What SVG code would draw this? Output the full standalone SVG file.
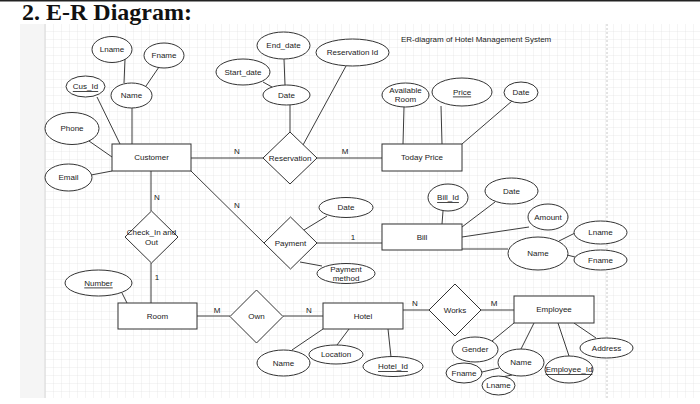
<svg xmlns="http://www.w3.org/2000/svg" width="700" height="404" viewBox="0 0 700 404">
<defs>
<pattern id="grid" width="8" height="8" patternUnits="userSpaceOnUse" x="45" y="23">
<path d="M8 0H0V8" fill="none" stroke="#e3e3e3" stroke-width="0.7"/>
</pattern>
</defs>
<style>
.e,.r,.d{fill:#fff;stroke:#333;stroke-width:1}
.t{font-family:"Liberation Sans",Arial,sans-serif;font-size:8px;fill:#1a1a1a;text-anchor:middle;dominant-baseline:central}
.u{text-decoration:underline}
#connectors line{stroke:#3c3c3c;stroke-width:1}
.lbl{font-family:"Liberation Sans",Arial,sans-serif;font-size:8px;fill:#1a1a1a;text-anchor:middle}
</style>
<rect x="0" y="0" width="700" height="404" fill="#fff"/>
<rect x="20" y="24" width="680" height="374" fill="#f5f5f5"/>
<rect x="45" y="24" width="655" height="374" fill="#fff"/>
<rect x="45" y="24" width="655" height="374" fill="url(#grid)"/>
<line x1="45" y1="24" x2="45" y2="398" stroke="#d8d8d8" stroke-width="1"/>
<line x1="607" y1="24" x2="607" y2="398" stroke="#c8c8c8" stroke-width="1" stroke-dasharray="2,2"/>
<rect x="0" y="0" width="700" height="1.5" fill="#222"/>
<text x="22" y="19.5" font-family="Liberation Serif,Times New Roman,serif" font-weight="bold" font-size="24" fill="#111">2. E-R Diagram:</text>
<text x="401" y="42" font-family="Liberation Sans,Arial,sans-serif" font-size="8" fill="#1a1a1a">ER-diagram of Hotel Management System</text>

<g id="connectors">
<line x1="125" y1="59" x2="124" y2="83"/>
<line x1="159" y1="67" x2="146" y2="86"/>
<line x1="97" y1="97" x2="120" y2="144"/>
<line x1="132" y1="108" x2="132" y2="144"/>
<line x1="89" y1="141" x2="112" y2="157"/>
<line x1="91" y1="175" x2="112" y2="171"/>
<line x1="191" y1="158" x2="263" y2="158"/>
<line x1="317" y1="158" x2="382" y2="158"/>
<line x1="290" y1="105" x2="290" y2="132"/>
<line x1="284" y1="59" x2="285" y2="85"/>
<line x1="263" y1="82" x2="272" y2="87"/>
<line x1="346" y1="66" x2="303" y2="145"/>
<line x1="404" y1="107" x2="403" y2="144"/>
<line x1="441" y1="106" x2="442" y2="144"/>
<line x1="512" y1="101" x2="462" y2="144"/>
<line x1="191" y1="171" x2="264" y2="243"/>
<line x1="327" y1="216" x2="304" y2="230"/>
<line x1="317" y1="243" x2="382" y2="243"/>
<line x1="443" y1="211" x2="442" y2="224"/>
<line x1="495" y1="202" x2="462" y2="227"/>
<line x1="529" y1="227" x2="462" y2="237"/>
<line x1="462" y1="249" x2="508" y2="249"/>
<line x1="559" y1="241" x2="575" y2="233"/>
<line x1="567" y1="255" x2="575" y2="257"/>
<line x1="300" y1="262" x2="322" y2="266"/>
<line x1="151" y1="171" x2="151" y2="211"/>
<line x1="151" y1="263" x2="151" y2="303"/>
<line x1="122" y1="293" x2="127" y2="303"/>
<line x1="197" y1="316" x2="230" y2="316"/>
<line x1="283" y1="316" x2="323" y2="316"/>
<line x1="292" y1="350" x2="323" y2="329"/>
<line x1="337" y1="345" x2="349" y2="329"/>
<line x1="391" y1="357" x2="388" y2="329"/>
<line x1="403" y1="310" x2="429" y2="310"/>
<line x1="481" y1="310" x2="514" y2="310"/>
<line x1="492" y1="341" x2="514" y2="323"/>
<line x1="521" y1="349" x2="534" y2="323"/>
<line x1="569" y1="356" x2="558" y2="323"/>
<line x1="596" y1="338" x2="574" y2="323"/>
<line x1="482" y1="372" x2="499" y2="368"/>
<line x1="502" y1="377" x2="512" y2="375"/>
<text class="lbl" x="237" y="154">N</text>
<text class="lbl" x="345" y="154">M</text>
<text class="lbl" x="237" y="208">N</text>
<text class="lbl" x="353" y="240">1</text>
<text class="lbl" x="157" y="200">N</text>
<text class="lbl" x="157" y="280">1</text>
<text class="lbl" x="217" y="313">M</text>
<text class="lbl" x="309" y="313">N</text>
<text class="lbl" x="415" y="306">N</text>
<text class="lbl" x="494" y="306">M</text>
</g>

<g id="customer"><rect class="r" x="112" y="144" width="79" height="27"/><text class="t" x="151.5" y="157.5">Customer</text></g>
<g id="cust-lname"><ellipse class="e" cx="112" cy="49.5" rx="20" ry="13"/><text class="t" x="112" y="49.5">Lname</text></g>
<g id="cust-fname"><ellipse class="e" cx="164" cy="55.5" rx="20" ry="12.5"/><text class="t" x="164" y="55.5">Fname</text></g>
<g id="cus-id"><ellipse class="e" cx="85.5" cy="86.5" rx="19.5" ry="10.5"/><text class="t u" x="85.5" y="86.5">Cus_Id</text></g>
<g id="cust-name"><ellipse class="e" cx="131.5" cy="95.5" rx="20.5" ry="12.5"/><text class="t" x="131.5" y="95.5">Name</text></g>
<g id="phone"><ellipse class="e" cx="72" cy="128.5" rx="27" ry="16"/><text class="t" x="72" y="128.5">Phone</text></g>
<g id="email"><ellipse class="e" cx="68.5" cy="177.5" rx="23.5" ry="13.5"/><text class="t" x="68.5" y="177.5">Email</text></g>

<g id="reservation"><polygon class="d" points="290,132 317,158 290,184 263,158"/><text class="t" x="290" y="158">Reservation</text></g>
<g id="res-date"><ellipse class="e" cx="286.5" cy="95" rx="23.5" ry="10"/><text class="t" x="286.5" y="95">Date</text></g>
<g id="end-date"><ellipse class="e" cx="283.5" cy="45.5" rx="26.5" ry="13.5"/><text class="t" x="283.5" y="45.5">End_date</text></g>
<g id="start-date"><ellipse class="e" cx="243" cy="72" rx="27" ry="13"/><text class="t" x="243" y="72">Start_date</text></g>
<g id="reservation-id"><ellipse class="e" cx="352.5" cy="52.5" rx="36.5" ry="13.5"/><text class="t" x="352.5" y="52.5">Reservation Id</text></g>

<g id="today-price"><rect class="r" x="382" y="144" width="80" height="27"/><text class="t" x="422" y="157.5">Today Price</text></g>
<g id="available-room"><ellipse class="e" cx="405.5" cy="95" rx="23.5" ry="12"/><text class="t" x="405.5" y="90.5">Available</text><text class="t" x="405.5" y="99.5">Room</text></g>
<g id="price"><ellipse class="e" cx="462" cy="92" rx="30" ry="14"/><text class="t u" x="462" y="92">Price</text></g>
<g id="tp-date"><ellipse class="e" cx="521" cy="92.5" rx="17" ry="10.5"/><text class="t" x="521" y="92.5">Date</text></g>

<g id="payment"><polygon class="d" points="290.5,217 317,243 290.5,269 264,243"/><text class="t" x="290.5" y="243">Payment</text></g>
<g id="pay-date"><ellipse class="e" cx="346" cy="207.5" rx="27" ry="10"/><text class="t" x="346" y="207.5">Date</text></g>
<g id="payment-method"><ellipse class="e" cx="346" cy="273.5" rx="29" ry="10"/><text class="t" x="346" y="269.5">Payment</text><text class="t" x="346" y="278">method</text></g>

<g id="bill"><rect class="r" x="382" y="224" width="80" height="26"/><text class="t" x="422" y="237">Bill</text></g>
<g id="bill-id"><ellipse class="e" cx="448" cy="197.5" rx="20" ry="13.5"/><text class="t u" x="448" y="197.5">Bill_Id</text></g>
<g id="bill-date"><ellipse class="e" cx="511.5" cy="191" rx="26.5" ry="13"/><text class="t" x="511.5" y="191">Date</text></g>
<g id="amount"><ellipse class="e" cx="548" cy="217" rx="20" ry="13"/><text class="t" x="548" y="217">Amount</text></g>
<g id="bill-name"><ellipse class="e" cx="538" cy="253.5" rx="30" ry="16.5"/><text class="t" x="538" y="253.5">Name</text></g>
<g id="bill-lname"><ellipse class="e" cx="600.5" cy="232.5" rx="26.5" ry="11.5"/><text class="t" x="600.5" y="232.5">Lname</text></g>
<g id="bill-fname"><ellipse class="e" cx="600.5" cy="260" rx="26.5" ry="10"/><text class="t" x="600.5" y="260">Fname</text></g>

<g id="check-in-out"><polygon class="d" points="151.5,211 178,237 151.5,263 125,237"/><text class="t" x="151.5" y="232.5">Check_In and</text><text class="t" x="151.5" y="242">Out</text></g>

<g id="room"><rect class="r" x="118" y="303" width="79" height="26"/><text class="t" x="157.5" y="316">Room</text></g>
<g id="number"><ellipse class="e" cx="98.5" cy="283" rx="33.5" ry="13"/><text class="t u" x="98.5" y="283">Number</text></g>

<g id="own"><polygon class="d" points="256.5,290 283,316.5 256.5,343 230,316.5"/><text class="t" x="256.5" y="316.5">Own</text></g>

<g id="hotel"><rect class="r" x="323" y="303" width="80" height="26"/><text class="t" x="363" y="316">Hotel</text></g>
<g id="hotel-name"><ellipse class="e" cx="283.5" cy="363" rx="26.5" ry="13"/><text class="t" x="283.5" y="363">Name</text></g>
<g id="location"><ellipse class="e" cx="336" cy="354.5" rx="27" ry="9.5"/><text class="t" x="336" y="354.5">Location</text></g>
<g id="hotel-id"><ellipse class="e" cx="393" cy="366.5" rx="30" ry="10"/><text class="t u" x="393" y="366.5">Hotel_Id</text></g>

<g id="works"><polygon class="d" points="455,284 481,310 455,336 429,310"/><text class="t" x="455" y="310">Works</text></g>

<g id="employee"><rect class="r" x="514" y="296" width="80" height="27"/><text class="t" x="554" y="309.5">Employee</text></g>
<g id="gender"><ellipse class="e" cx="475" cy="349.5" rx="23" ry="12.5"/><text class="t" x="475" y="349.5">Gender</text></g>
<g id="emp-name"><ellipse class="e" cx="521" cy="362.5" rx="23" ry="13.5"/><text class="t" x="521" y="362.5">Name</text></g>
<g id="employee-id"><ellipse class="e" cx="569" cy="369.5" rx="24" ry="13.5"/><text class="t u" x="569" y="369.5">Employee_Id</text></g>
<g id="address"><ellipse class="e" cx="606.5" cy="348" rx="26.5" ry="10"/><text class="t" x="606.5" y="348">Address</text></g>
<g id="emp-fname"><ellipse class="e" cx="464" cy="373" rx="18" ry="10"/><text class="t" x="464" y="373">Fname</text></g>
<g id="emp-lname"><ellipse class="e" cx="498.5" cy="385.5" rx="16.5" ry="9.5"/><text class="t" x="498.5" y="385.5">Lname</text></g>
</svg>
